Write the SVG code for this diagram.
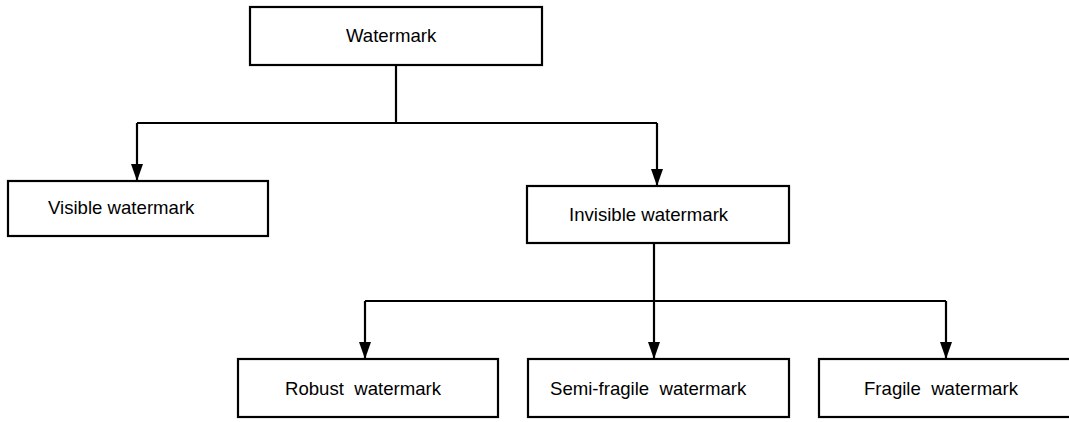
<svg xmlns="http://www.w3.org/2000/svg" width="1069" height="422" viewBox="0 0 1069 422">
  <defs>
    <style>
      .box { fill: #fff; stroke: #000; stroke-width: 2.2; }
      .lbl { font-family: "Liberation Sans", Arial, sans-serif; font-size: 18.6px; fill: #000; white-space: pre; }
      .wire { fill: none; stroke: #000; stroke-width: 2.2; }
    </style>
    <marker id="arrow" markerWidth="17" markerHeight="12" refX="17" refY="6" orient="auto" markerUnits="userSpaceOnUse" viewBox="0 0 17 12">
      <path d="M0,0 L17,6 L0,12 Z" fill="#000"/>
    </marker>
  </defs>
  <rect width="1069" height="422" fill="#fff"/>

  <!-- connectors -->
  <g id="connectors">
    <path class="wire" d="M396,65 V123"/>
    <path class="wire" d="M137,123 H657"/>
    <path class="wire" d="M137,123 V181" marker-end="url(#arrow)"/>
    <path class="wire" d="M657,123 V186" marker-end="url(#arrow)"/>
    <path class="wire" d="M654,243 V359" marker-end="url(#arrow)"/>
    <path class="wire" d="M365,301 H946"/>
    <path class="wire" d="M365,301 V359" marker-end="url(#arrow)"/>
    <path class="wire" d="M946,301 V359" marker-end="url(#arrow)"/>
  </g>

  <g id="watermark">
    <rect class="box" x="250" y="7" width="292" height="58"/>
    <text class="lbl" x="346" y="42">Watermark</text>
  </g>

  <g id="visible">
    <rect class="box" x="8" y="181" width="260" height="55"/>
    <text class="lbl" x="48" y="214">Visible watermark</text>
  </g>

  <g id="invisible">
    <rect class="box" x="527" y="186" width="262" height="57"/>
    <text class="lbl" x="569" y="221">Invisible watermark</text>
  </g>

  <g id="robust">
    <rect class="box" x="238" y="359" width="260" height="58"/>
    <text class="lbl" x="285" y="395">Robust  watermark</text>
  </g>

  <g id="semi-fragile">
    <rect class="box" x="528" y="359" width="261" height="58"/>
    <text class="lbl" x="550" y="395">Semi-fragile  watermark</text>
  </g>

  <g id="fragile">
    <rect class="box" x="819" y="359" width="260" height="58"/>
    <text class="lbl" x="864" y="395">Fragile  watermark</text>
  </g>
</svg>
